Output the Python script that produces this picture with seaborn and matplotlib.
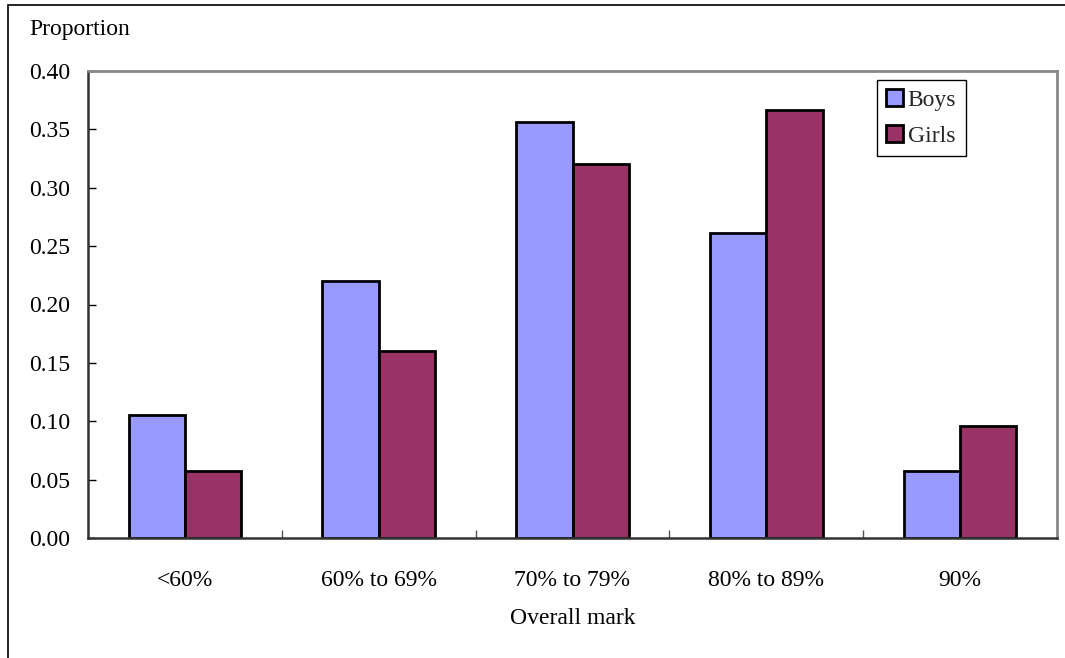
import matplotlib
matplotlib.use("Agg")
import matplotlib.pyplot as plt
import seaborn as sns
import pandas as pd
from matplotlib.patches import Rectangle

categories = ["<60%", "60% to 69%", "70% to 79%", "80% to 89%", "90%"]
boys = [0.105, 0.220, 0.356, 0.261, 0.057]
girls = [0.057, 0.160, 0.320, 0.367, 0.096]
series_names = ["Boys", "Girls"]
y_ticks = [0.00, 0.05, 0.10, 0.15, 0.20, 0.25, 0.30, 0.35, 0.40]

df = pd.DataFrame({
    "mark": categories * 2,
    "proportion": boys + girls,
    "group": [series_names[0]] * len(categories) + [series_names[1]] * len(categories),
})

FS = 17

sns.set_theme(style="white")
plt.rcParams["font.family"] = ["Liberation Serif", "DejaVu Serif"]
plt.rcParams["font.size"] = FS

fig = plt.figure(figsize=(10.65, 6.58), dpi=100)
ax = fig.add_axes([88 / 1065, 1 - 538 / 658, (1057 - 88) / 1065, (538 - 71) / 658])

sns.barplot(
    data=df, x="mark", y="proportion", hue="group", order=categories,
    hue_order=series_names, palette={"Boys": "#9999FF", "Girls": "#993366"},
    width=0.58, gap=0, edgecolor="black", linewidth=2, saturation=1, ax=ax,
)

ax.set_xlim(-0.5, len(categories) - 0.5)
ax.set_ylim(0, 0.40)
ax.set_yticks(y_ticks)
ax.set_yticklabels([f"{v:.2f}" for v in y_ticks])
ax.set_xticks(range(len(categories)))
ax.set_xticklabels(categories)
ax.tick_params(axis="x", length=0, pad=23, labelsize=FS, colors="black")
ax.tick_params(axis="y", direction="in", length=6, width=1, pad=13,
               labelsize=FS, colors="black", left=True)
# minor ticks on the x axis mark category boundaries
ax.set_xticks([i + 0.5 for i in range(len(categories) - 1)], minor=True)
ax.tick_params(axis="x", which="minor", direction="in", length=6, width=1,
               color="#555555", bottom=True)

ax.set_xlabel("Overall mark", fontsize=FS, labelpad=12, color="black")
ax.set_ylabel("")
fig.text(29 / 1065, 1 - 29 / 658, "Proportion", fontsize=FS, va="center",
         ha="left", color="black")

for side in ["left", "bottom"]:
    ax.spines[side].set_color("#333333")
    ax.spines[side].set_linewidth(1.8)
for side in ["top", "right"]:
    ax.spines[side].set_color("#888888")
    ax.spines[side].set_linewidth(2)
    ax.spines[side].set_visible(True)

leg = ax.legend(
    loc="upper left", bbox_to_anchor=((877 - 88) / 969, 1 - (80 - 71) / 467),
    frameon=True, fancybox=False, edgecolor="black", framealpha=1,
    handlelength=0.7, handleheight=0.7, handletextpad=0.2,
    borderpad=0.4, labelspacing=0.6, fontsize=FS, borderaxespad=0,
)
leg.get_frame().set_linewidth(1)
for h in leg.legend_handles:
    h.set_edgecolor("black")
    h.set_linewidth(2)

# outer chart border
fig.patches.append(Rectangle((8 / 1065, -0.1), 1.2, 1 - 5 / 658 + 0.1,
                             transform=fig.transFigure, fill=False,
                             edgecolor="black", linewidth=1.2))

fig.savefig("out.png", dpi=100)
